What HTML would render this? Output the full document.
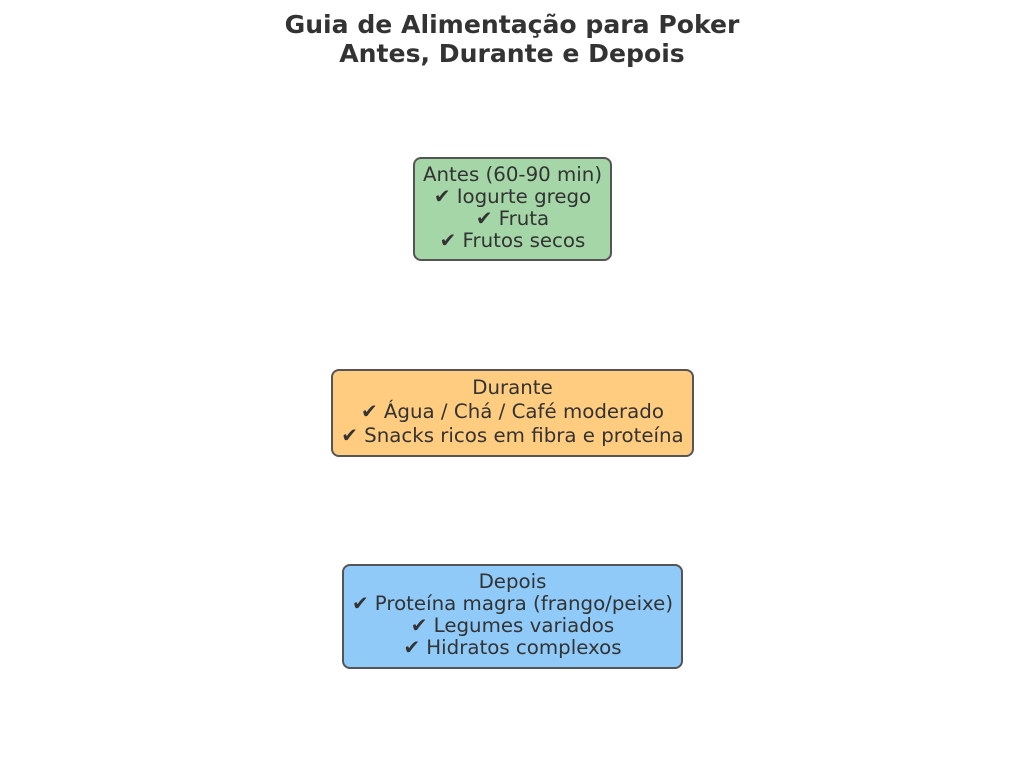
<!DOCTYPE html>
<html><head><meta charset="utf-8"><style>
body{margin:0;width:1024px;height:765px;background:#fff;position:relative;font-family:"DejaVu Sans","Liberation Sans",sans-serif;color:#333;overflow:hidden}
.t{position:absolute;left:0;width:1024px;text-align:center;font-weight:bold;font-size:25.1px;line-height:29px;top:10px}
.b{position:absolute;box-sizing:border-box;border:2px solid #555;border-radius:8px;text-align:center;font-size:19.8px;line-height:22px;display:flex;flex-direction:column;justify-content:center;white-space:nowrap;padding-bottom:3px}
</style></head><body>
<div class="t">Guia de Alimentação para Poker<br>Antes, Durante e Depois</div>
<div class="b" style="left:413px;top:157px;width:199px;height:104px;background:#a5d6a7">Antes (60-90 min)<br>✔ Iogurte grego<br>✔ Fruta<br>✔ Frutos secos</div>
<div class="b" style="left:331px;top:369px;width:363px;height:88px;background:#ffcc80;line-height:24px">Durante<br>✔ Água / Chá / Café moderado<br>✔ Snacks ricos em fibra e proteína</div>
<div class="b" style="left:342px;top:564px;width:341px;height:105px;background:#90caf9">Depois<br>✔ Proteína magra (frango/peixe)<br>✔ Legumes variados<br>✔ Hidratos complexos</div>
</body></html>
